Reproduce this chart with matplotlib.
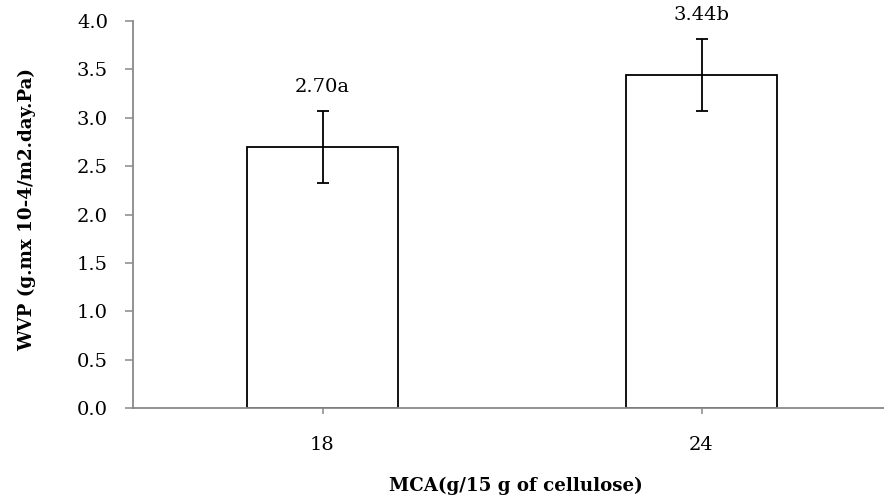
import matplotlib
matplotlib.use("Agg")
import matplotlib.pyplot as plt

categories = ["18", "24"]
values = [2.70, 3.44]
errors = [0.37, 0.37]
labels = ["2.70a", "3.44b"]
yticks = [0.0, 0.5, 1.0, 1.5, 2.0, 2.5, 3.0, 3.5, 4.0]

plt.rcParams['font.family'] = ['DejaVu Serif']

fig = plt.figure(figsize=(8.84, 4.97), dpi=100)
ax = fig.add_axes([133/884, (497-408)/497, 758/884, 387/497])

x = list(range(len(categories)))
ax.bar(x, values, width=0.4, color='white', edgecolor='black', linewidth=1.3, zorder=2)
ax.errorbar(x, values, yerr=errors, fmt='none', ecolor='black', elinewidth=1.3,
            capsize=4.5, capthick=1.3, zorder=3)
for xi, v, e, lab in zip(x, values, errors, labels):
    ax.annotate(lab, (xi, v + e), xytext=(0, 11), textcoords='offset points',
                ha='center', va='bottom', fontsize=14)

ax.set_xlim(-0.5, 1.5)
ax.set_ylim(0, 4.0)
ax.set_yticks(yticks)
ax.set_yticklabels([f"{t:.1f}" for t in yticks], fontsize=14)
ax.set_xticks(x)
ax.set_xticklabels(categories, fontsize=14)

for s in ['top', 'right']:
    ax.spines[s].set_visible(False)
for s in ['left', 'bottom']:
    ax.spines[s].set_color('#898989')
    ax.spines[s].set_linewidth(1.3)
ax.tick_params(axis='y', direction='out', length=6, width=1.1, color='#898989', pad=12)
ax.tick_params(axis='x', direction='out', length=4.5, width=1.1, color='#898989', pad=16)

xl = fig.text(515.5/884, (497-491)/497, "MCA(g/15 g of cellulose)", fontsize=12.5,
              fontweight='bold', ha='center', va='baseline')
yl = fig.text(27/884, (497-209.5)/497, "WVP (g.mx 10-4/m2.day.Pa)", fontsize=12.5,
              fontweight='bold', ha='center', va='center', rotation=90)

fig.canvas.draw()
r = fig.canvas.get_renderer()
wx = xl.get_window_extent(r).width
xl.set_fontsize(12.5 * 255 / wx)
hy = yl.get_window_extent(r).height
yl.set_fontsize(12.5 * 283 / hy)

fig.savefig("out.png", dpi=100)
